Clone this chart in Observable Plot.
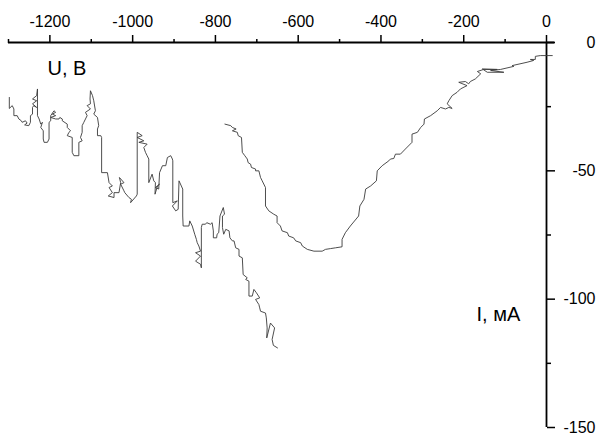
<!DOCTYPE html>
<html><head><meta charset="utf-8">
<script src="https://cdn.jsdelivr.net/npm/d3@7"></script>
<script src="https://cdn.jsdelivr.net/npm/@observablehq/plot@0.6"></script>
<style>body{margin:0;background:#fff}</style>
</head><body><div id="chart"></div>
<script>
// Series 1: noisy branch (current I, mA / voltage U, V)
const s1I = [
 -1298,-1298,-1291,-1287,-1287,-1279,-1275,-1269,-1267,-1259,
 -1255,-1261,-1251,-1247,-1247,-1242,-1242,-1239,-1232,-1242,
 -1232,-1242,-1232,-1230,-1230,-1226,-1222,-1218,-1222,-1216,
 -1216,-1214,-1206,-1202,-1202,-1198,-1198,-1190,-1186,-1194,
 -1186,-1198,-1186,-1178,-1176,-1170,-1170,-1158,-1158,-1150,
 -1154,-1158,-1146,-1146,-1142,-1130,-1130,-1122,-1126,-1122,
 -1122,-1118,-1114,-1110,-1114,-1102,-1110,-1102,-1103,-1102,
 -1097,-1094,-1090,-1094,-1085,-1082,-1085,-1085,-1077,-1075,
 -1075,-1061,-1057,-1049,-1057,-1049,-1059,-1045,-1045,-1033,
 -1029,-1032,-1021,-1029,-1021,-1019,-1009,-1003,-1005,-991,
 -989,-989,-977,-989,-973,-985,-965,-973,-969,-965,
 -961,-961,-953,-949,-945,-946,-940,-935,-945,-937,
 -935,-928,-920,-916,-908,-904,-903,-903,-892,-904,
 -896,-890,-888,-879,-879,-878,-864,-862,-856,-850,
 -846,-844,-840,-836,-848,-836,-848,-836,-834,-834,
 -832,-824,-821,-812,-808,-805,-805,-797,-796,-792,
 -789,-781,-778,-783,-783,-780,-775,-767,-765,-759,
 -755,-751,-743,-743,-735,-733,-723,-727,-719,-719,
 -711,-707,-701,-693,-703,-695,-693,-691,-679,-677,
 -675,-676,-667,-657,-663,-660,-650
];
const s1U = [
 -21.4,-25.7,-24.6,-25.9,-28.5,-28.5,-29.8,-30.5,-31.1,-30.5,
 -31.4,-32.1,-32.4,-31.1,-28.5,-27.9,-25.3,-24.6,-25.3,-23.9,
 -22.7,-22.0,-20.7,-18.1,-28.5,-29.8,-31.8,-31.1,-33.1,-34.4,
 -37.6,-38.9,-38.9,-37.6,-31.1,-30.5,-28.5,-26.6,-27.2,-27.9,
 -28.5,-29.2,-29.8,-29.8,-29.2,-29.8,-30.5,-31.8,-33.1,-34.4,
 -35.0,-36.3,-37.0,-42.8,-44.1,-44.1,-38.9,-38.3,-37.0,-35.0,
 -32.4,-31.1,-29.8,-28.5,-27.2,-25.9,-24.6,-23.9,-22.0,-18.8,
 -20.7,-22.7,-26.6,-27.9,-29.2,-32.4,-33.7,-36.3,-36.3,-37.0,
 -50.7,-50.7,-54.6,-55.9,-56.5,-58.5,-59.8,-60.4,-58.5,-58.5,
 -54.6,-52.6,-54.6,-55.2,-57.8,-58.5,-60.4,-61.1,-62.4,-59.8,
 -59.1,-35.0,-36.3,-37.0,-38.3,-38.9,-39.6,-40.9,-42.8,-44.1,
 -45.4,-54.6,-51.3,-53.9,-54.6,-59.1,-55.9,-55.2,-56.5,-57.1,
 -50.7,-48.0,-48.0,-44.8,-44.1,-45.4,-46.1,-62.4,-61.7,-63.7,
 -65.6,-65.0,-53.9,-57.1,-67.6,-71.5,-71.5,-69.5,-71.5,-74.7,
 -76.7,-78.0,-79.3,-81.3,-81.9,-83.2,-85.2,-86.4,-87.8,-72.1,
 -70.8,-70.8,-70.2,-70.8,-70.2,-73.4,-76.1,-76.1,-74.7,-74.1,
 -67.6,-64.3,-66.9,-67.6,-72.1,-74.7,-72.8,-73.4,-76.1,-77.3,
 -77.3,-80.0,-80.6,-83.2,-83.9,-90.4,-91.7,-92.3,-93.0,-98.8,
 -98.8,-96.2,-97.5,-99.5,-100.1,-102.1,-103.4,-104.7,-105.4,-107.3,
 -111.2,-115.1,-109.3,-111.2,-115.7,-118.0,-119.0
];
// Series 2: smooth V-shaped branch
const s2I = [
 -777,-763,-759,-750,-759,-747,-745,-737,-735,-729,
 -723,-721,-715,-713,-703,-703,-695,-691,-687,-679,
 -679,-671,-659,-651,-651,-643,-639,-626,-623,-611,
 -606,-594,-590,-578,-562,-542,-534,-522,-510,-494,
 -494,-486,-474,-454,-451,-441,-437,-425,-411,-409,
 -397,-381,-377,-369,-365,-353,-341,-325,-325,-312,
 -304,-296,-295,-280,-264,-256,-244,-236,-228,-240,
 -236,-228,-216,-208,-192,-212,-196,-188,-184,-172,
 -159,-167,-152,-119,-155,-143,-103,-135,-111,-79,
 -83,-47,-31,-39,-27,-27,-15,14
];
const s2U = [
 -31.8,-32.4,-33.1,-33.7,-34.4,-35.0,-36.3,-37.0,-42.8,-44.1,
 -45.4,-46.8,-47.4,-48.7,-49.3,-50.0,-50.0,-52.6,-53.9,-56.5,
 -63.7,-65.6,-66.9,-67.6,-70.2,-71.5,-73.4,-74.1,-75.4,-76.1,
 -77.3,-78.0,-79.3,-80.6,-81.3,-81.3,-80.6,-80.3,-80.0,-79.6,
 -76.7,-74.1,-71.5,-67.6,-63.7,-61.1,-57.1,-55.9,-53.9,-50.0,
 -48.0,-46.1,-45.4,-45.2,-43.5,-43.5,-41.5,-38.9,-35.7,-35.0,
 -33.1,-31.8,-29.8,-28.5,-26.6,-25.3,-25.9,-25.3,-25.7,-23.9,
 -22.7,-20.7,-19.4,-18.1,-16.8,-15.5,-15.2,-16.1,-15.2,-14.2,
 -12.2,-11.3,-10.5,-10.5,-10.3,-11.6,-11.6,-10.9,-10.5,-9.3,
 -9.0,-7.7,-7.0,-6.6,-6.6,-5.4,-5.1,-5.1
];
const xTicks = [-1200,-1000,-800,-600,-400,-200,0];
const xMinor = [-1300,-1100,-900,-700,-500,-300,-100];
const yTicks = [0,-50,-100,-150];
const yMinor = [-25,-75,-125];
const yTitle = "U, В";
const xTitle = "I, мА";

const s1 = s1I.map((v,i)=>({I:v, U:s1U[i]}));
const s2 = s2I.map((v,i)=>({I:v, U:s2U[i]}));
const fmt = d => String(d);

const chart = Plot.plot({
  width: 599, height: 435,
  marginLeft: 8, marginRight: 53, marginTop: 42, marginBottom: 8,
  x: {domain: [-1300, 0], label: null},
  y: {domain: [-150, 0], label: null},
  style: {fontFamily: "'Liberation Sans', Arial, sans-serif", fontSize: "16px", color: "#000", background: "#fff"},
  marks: [
    Plot.axisX(xMinor, {anchor: "top", tickSize: 4, strokeWidth: 1.5, fill: "none", label: null}),
    Plot.axisX(xTicks, {anchor: "top", tickSize: 8, tickPadding: 8, strokeWidth: 1.5, tickFormat: fmt, label: null}),
    Plot.axisY(yMinor, {anchor: "right", tickSize: 4, strokeWidth: 1.5, fill: "none", label: null}),
    Plot.axisY(yTicks, {anchor: "right", tickSize: 8, tickPadding: 41, textAnchor: "end", strokeWidth: 1.5, tickFormat: fmt, label: null}),
    Plot.ruleY([0], {x1: -1300, x2: 20, strokeWidth: 1.8, stroke: "#000"}),
    Plot.ruleX([0], {y1: -150, y2: 0, strokeWidth: 1.8, stroke: "#000"}),
    Plot.line(s1, {x: "I", y: "U", stroke: "#3a3a3a", strokeWidth: 0.9}),
    Plot.line(s2, {x: "I", y: "U", stroke: "#3a3a3a", strokeWidth: 0.9}),
    Plot.text([yTitle], {frameAnchor: "top-left", dx: 39, dy: 18, textAnchor: "start", fontSize: 20}),
    Plot.text([xTitle], {frameAnchor: "top-left", dx: 468, dy: 264, textAnchor: "start", fontSize: 20})
  ]
});
document.getElementById("chart").append(chart);
</script>
</body></html>
